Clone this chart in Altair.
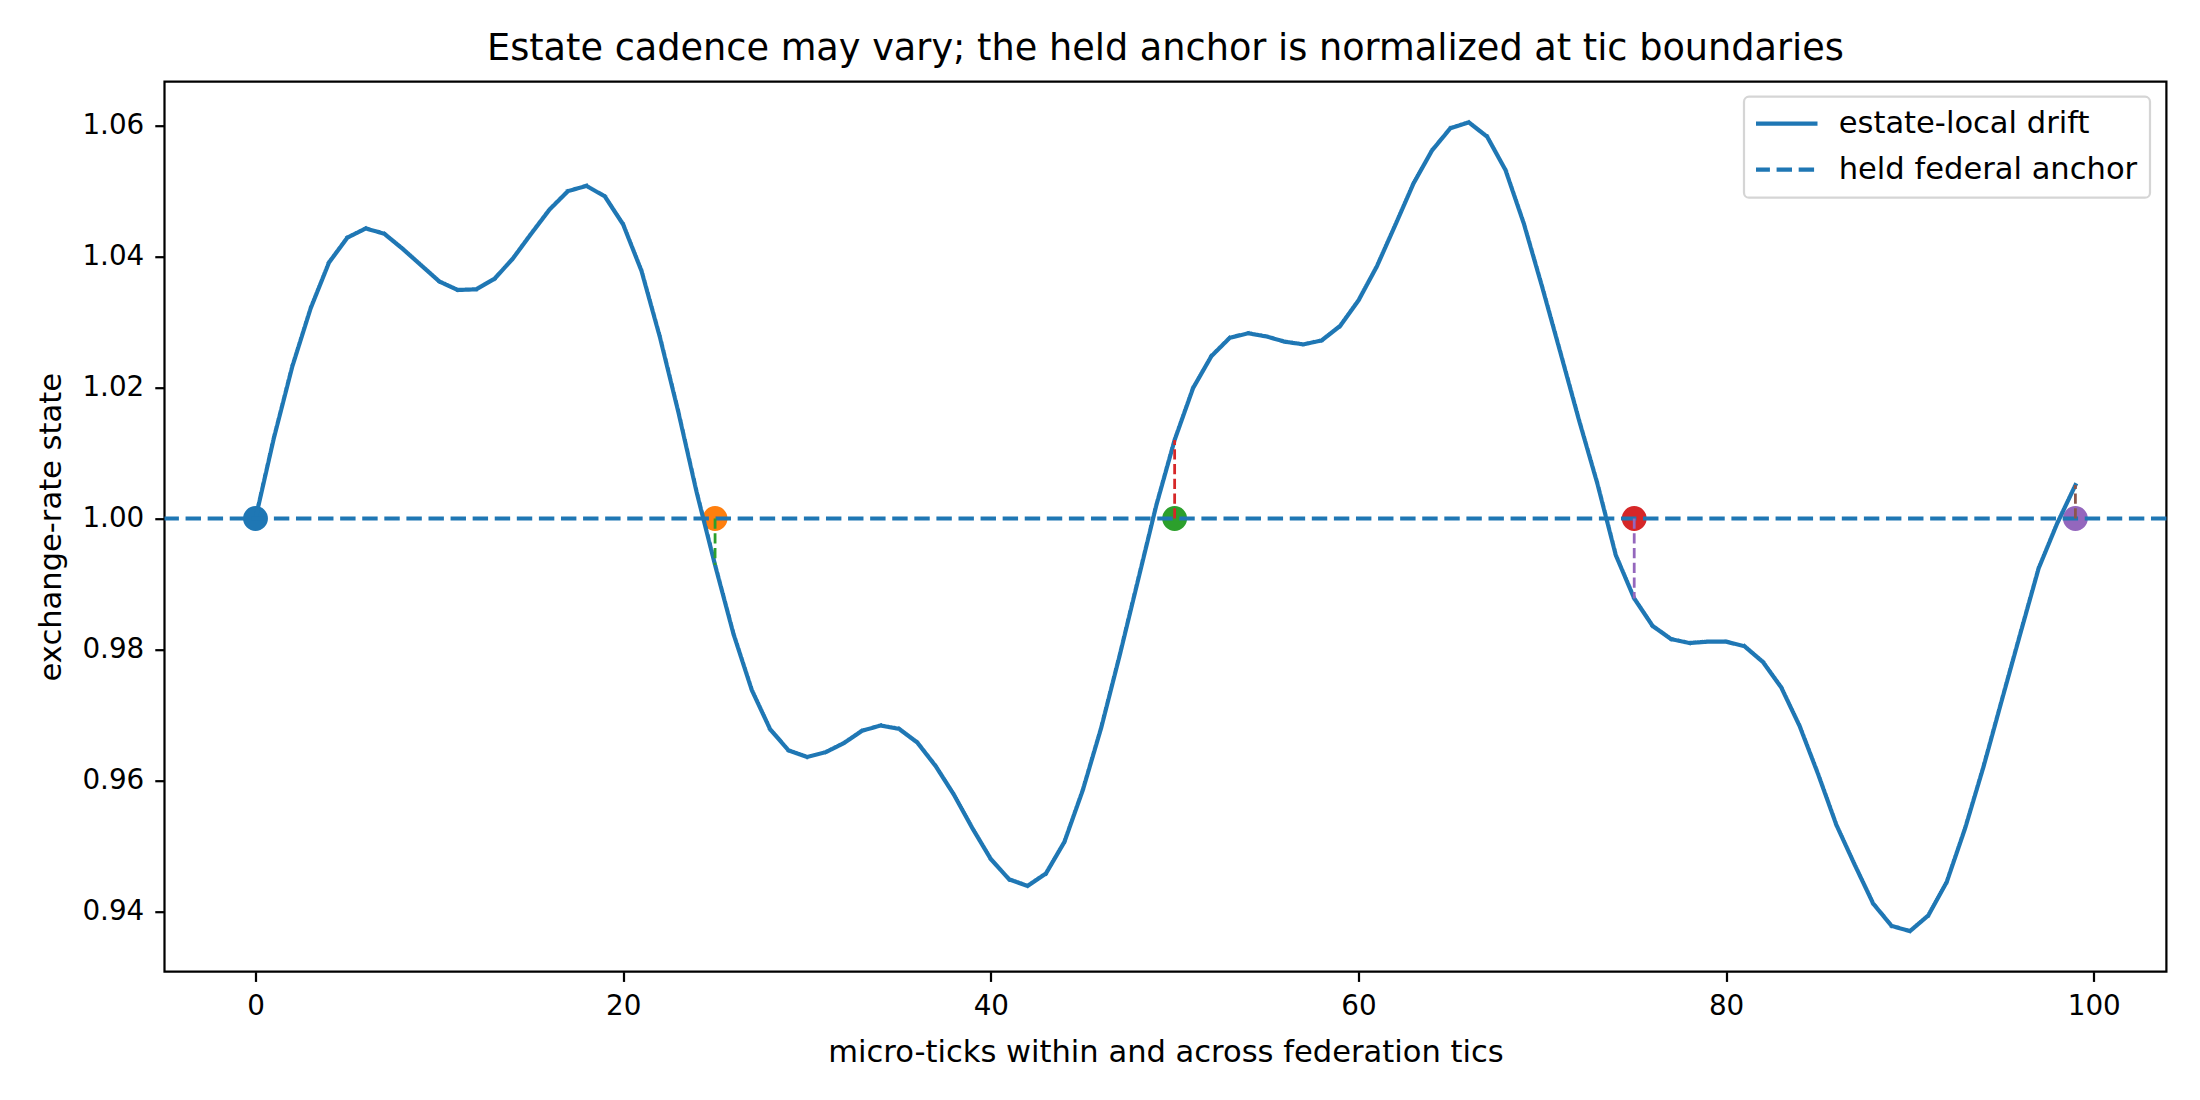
import altair as alt
import pandas as pd

# ---- data -----------------------------------------------------------------
micro_ticks = list(range(100))
drift = [
    1.0000, 1.0123, 1.0232, 1.0321, 1.0391, 1.0429, 1.0443, 1.0435, 1.0412, 1.0387,
    1.0362, 1.0349, 1.0350, 1.0366, 1.0397, 1.0435, 1.0472, 1.0500, 1.0508, 1.0492,
    1.0449, 1.0378, 1.0277, 1.0163, 1.0040, 0.9929, 0.9824, 0.9738, 0.9678, 0.9646,
    0.9636, 0.9643, 0.9657, 0.9676, 0.9684, 0.9679, 0.9658, 0.9622, 0.9578, 0.9527,
    0.9480, 0.9449, 0.9439, 0.9458, 0.9506, 0.9585, 0.9680, 0.9790, 0.9905, 1.0020,
    1.0120, 1.0199, 1.0248, 1.0276, 1.0283, 1.0278, 1.0270, 1.0266, 1.0272, 1.0294,
    1.0333, 1.0385, 1.0448, 1.0512, 1.0562, 1.0596, 1.0605, 1.0583, 1.0532, 1.0450,
    1.0353, 1.0252, 1.0150, 1.0053, 0.9944, 0.9878, 0.9836, 0.9816, 0.9810, 0.9812,
    0.9812, 0.9805, 0.9781, 0.9742, 0.9683, 0.9610, 0.9532, 0.9471, 0.9412, 0.9378,
    0.9370, 0.9394, 0.9445, 0.9527, 0.9621, 0.9723, 0.9824, 0.9924, 0.9992, 1.0051,
]
anchor_level = 1.0

tic_ticks = [0, 25, 50, 75, 99]
tic_colors = ["#1f77b4", "#ff7f0e", "#2ca02c", "#d62728", "#9467bd"]
gap_ticks = [25, 50, 75, 99]
gap_colors = ["#2ca02c", "#d62728", "#9467bd", "#8c564b"]

series_names = ["estate-local drift", "held federal anchor"]
x_tick_values = [0, 20, 40, 60, 80, 100]
y_tick_values = [0.94, 0.96, 0.98, 1.00, 1.02, 1.04, 1.06]
x_domain = [-4.95, 103.95]
y_domain = [0.9308, 1.0667]

title_text = "Estate cadence may vary; the held anchor is normalized at tic boundaries"
x_title = "micro-ticks within and across federation tics"
y_title = "exchange-rate state"

# ---- tables ---------------------------------------------------------------
drift_df = pd.DataFrame({"t": micro_ticks, "v": drift, "series": series_names[0]})
anchor_df = pd.DataFrame({"v": [anchor_level], "series": [series_names[1]]})
dots_df = pd.DataFrame({"t": tic_ticks, "v": [anchor_level] * len(tic_ticks), "c": tic_colors})
gaps_df = pd.DataFrame({
    "t": gap_ticks,
    "v": [anchor_level] * len(gap_ticks),
    "v2": [drift[t] for t in gap_ticks],
    "c": gap_colors,
})

# ---- geometry (pixels) ----------------------------------------------------
PT = 200 / 72
LEFT, TOP, RIGHT, BOTTOM = 164.5, 81.7, 2166.4, 971.7
W = RIGHT - LEFT
H = BOTTOM - TOP
FONT = "DejaVu Sans"
BLUE = "#1f77b4"
TICK_FS = 10 * PT
LABEL_FS = 11 * PT
TITLE_FS = 13.2 * PT

x_enc = alt.X(
    "t:Q",
    scale=alt.Scale(domain=x_domain, nice=False, zero=False),
    axis=alt.Axis(
        values=x_tick_values, title=x_title, labelPadding=11,
        titleBaseline="alphabetic", titleY=1061 - BOTTOM, titleX=W / 2,
        titleAlign="center", labelFlush=False, labelOverlap=False,
    ),
)
y_enc = alt.Y(
    "v:Q",
    scale=alt.Scale(domain=y_domain, nice=False, zero=False),
    axis=alt.Axis(
        values=y_tick_values, format=".2f", title=y_title, labelPadding=11,
        titleBaseline="alphabetic", titleX=60 - LEFT, titleY=H / 2,
        titleAlign="center", titleAngle=270, labelFlush=False, labelOverlap=False,
    ),
)

dash_scale = alt.Scale(domain=series_names, range=[[1, 0], [5.55 * PT, 2.4 * PT]])
legend = alt.Legend(
    title=None,
    orient="none",
    legendX=1744 - LEFT,
    legendY=96.7 - TOP,
    symbolType="stroke",
    symbolSize=63 * 63,
    symbolStrokeWidth=1.5 * PT,
    symbolStrokeColor=BLUE,
    symbolOffset=-4,
    labelFont=FONT,
    labelFontSize=LABEL_FS,
    labelColor="black",
    labelLimit=600,
    labelOffset=18.7,
    padding=12,
    rowPadding=15,
    clipHeight=30,
    fillColor="rgba(255,255,255,0.8)",
    strokeColor="#d5d5d5",
    cornerRadius=5,
)
dash_enc = alt.StrokeDash("series:N", scale=dash_scale, legend=legend)

# tic-boundary markers sitting on the anchor
dots = alt.Chart(dots_df).mark_circle(size=616, opacity=1).encode(
    x=x_enc, y=y_enc, fill=alt.Fill("c:N", scale=None)
)

# drifting estate-local rate
drift_line = alt.Chart(drift_df).mark_line(
    color=BLUE, strokeWidth=1.5 * PT, strokeJoin="round", strokeCap="square"
).encode(x=x_enc, y=y_enc, strokeDash=dash_enc)

# held federal anchor across the full width
anchor_rule = alt.Chart(anchor_df).mark_rule(
    color=BLUE, strokeWidth=1.5 * PT
).encode(y=y_enc, strokeDash=dash_enc)

# gap between anchor and drift at each tic boundary
gaps = alt.Chart(gaps_df).mark_rule(
    strokeWidth=1.0 * PT, strokeDash=[3.7 * PT, 1.6 * PT]
).encode(x=x_enc, y=y_enc, y2="v2:Q", stroke=alt.Stroke("c:N", scale=None))

chart = (
    alt.layer(dots, drift_line, anchor_rule, gaps)
    .properties(
        width=W,
        height=H,
        autosize=alt.AutoSizeParams(type="none"),
        padding={"left": LEFT, "top": TOP, "right": 2200 - RIGHT, "bottom": 1100 - BOTTOM},
        title=alt.TitleParams(
            title_text, font=FONT, fontSize=TITLE_FS, fontWeight="normal",
            color="black", anchor="middle", frame="group",
            baseline="alphabetic", offset=TOP - 65, dy=32,
        ),
    )
    .configure(background="white", font=FONT)
    .configure_view(stroke="black", strokeWidth=0.8 * PT)
    .configure_axis(
        labelFont=FONT, labelFontSize=TICK_FS, labelColor="black",
        titleFont=FONT, titleFontSize=LABEL_FS, titleFontWeight="normal", titleColor="black",
        tickColor="black", tickWidth=0.8 * PT, tickSize=3.5 * PT,
        domain=False, grid=False,
    )
    .configure_legend(strokeWidth=0.8 * PT)
)

chart.save("out.html", embed_options={"renderer": "svg", "actions": False})
